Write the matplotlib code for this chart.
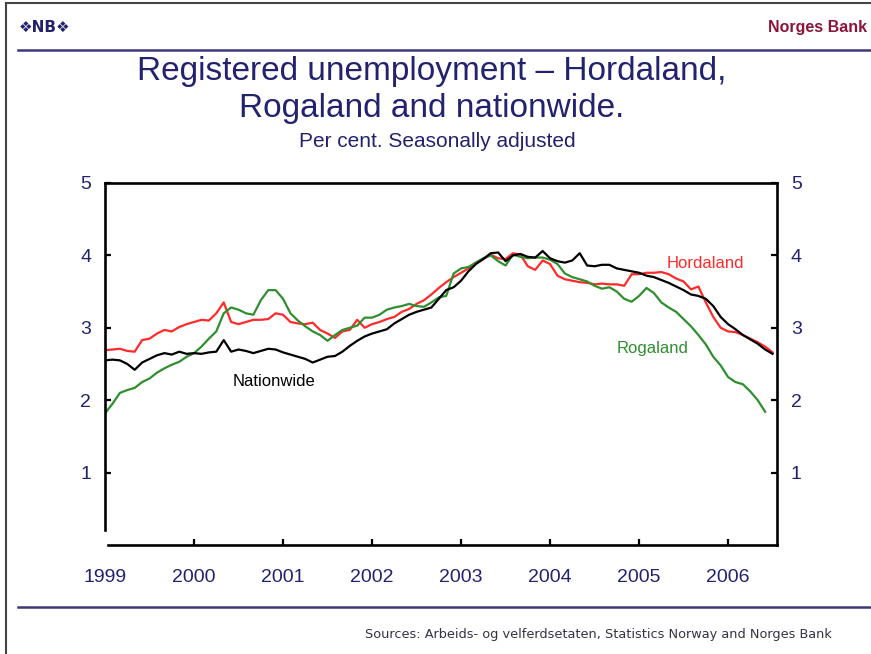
import numpy as np
import matplotlib
matplotlib.use("Agg")
from matplotlib import pyplot as plt
from matplotlib.lines import Line2D

plt.rcParams['font.family'] = ['Liberation Sans', 'DejaVu Sans']

# monthly data, Jan 1999 - Jul 2006
nationwide = [2.55, 2.56, 2.55, 2.50, 2.42, 2.52, 2.57, 2.62, 2.65, 2.63,
              2.67, 2.64, 2.65, 2.64, 2.66, 2.67, 2.83, 2.67, 2.70, 2.68,
              2.65, 2.68, 2.71, 2.70, 2.66, 2.63, 2.60, 2.57, 2.52, 2.56,
              2.60, 2.61, 2.67, 2.75, 2.82, 2.88, 2.92, 2.95, 2.98, 3.06,
              3.12, 3.18, 3.22, 3.25, 3.28, 3.40, 3.52, 3.56, 3.65, 3.78,
              3.88, 3.95, 4.03, 4.04, 3.92, 4.00, 4.02, 3.98, 3.97, 4.06,
              3.96, 3.92, 3.90, 3.93, 4.03, 3.86, 3.85, 3.87, 3.87, 3.82,
              3.80, 3.78, 3.76, 3.72, 3.70, 3.66, 3.62, 3.57, 3.52, 3.46,
              3.44, 3.40, 3.30, 3.15, 3.05, 2.98, 2.90, 2.84, 2.78, 2.70,
              2.64]
hordaland = [2.69, 2.70, 2.71, 2.68, 2.67, 2.83, 2.85, 2.92, 2.97, 2.95,
             3.01, 3.05, 3.08, 3.11, 3.10, 3.20, 3.35, 3.08, 3.05, 3.08,
             3.11, 3.11, 3.12, 3.20, 3.18, 3.08, 3.06, 3.05, 3.07, 2.97,
             2.92, 2.86, 2.95, 2.97, 3.11, 3.00, 3.05, 3.08, 3.12, 3.15,
             3.22, 3.26, 3.33, 3.38, 3.46, 3.55, 3.63, 3.70, 3.76, 3.82,
             3.90, 3.95, 4.01, 3.96, 3.95, 4.03, 4.01, 3.85, 3.80, 3.93,
             3.88, 3.72, 3.67, 3.65, 3.63, 3.62, 3.60, 3.61, 3.60, 3.60,
             3.58, 3.74, 3.74, 3.76, 3.76, 3.77, 3.74, 3.68, 3.64, 3.53,
             3.57, 3.35, 3.15, 3.00, 2.95, 2.94, 2.90, 2.85, 2.80, 2.74,
             2.66]
rogaland = [1.82, 1.95, 2.10, 2.14, 2.17, 2.25, 2.30, 2.38, 2.44, 2.49,
            2.53, 2.60, 2.65, 2.74, 2.85, 2.95, 3.20, 3.28, 3.25, 3.20,
            3.18, 3.38, 3.52, 3.52, 3.40, 3.20, 3.10, 3.02, 2.95, 2.90,
            2.82, 2.90, 2.97, 3.00, 3.03, 3.14, 3.14, 3.18, 3.25, 3.28,
            3.30, 3.33, 3.30, 3.29, 3.35, 3.42, 3.44, 3.75, 3.82, 3.84,
            3.90, 3.96, 4.00, 3.92, 3.86, 4.01, 3.98, 3.96, 3.97, 3.97,
            3.94, 3.88, 3.75, 3.70, 3.67, 3.64, 3.58, 3.54, 3.56, 3.50,
            3.40, 3.36, 3.44, 3.55, 3.48, 3.35, 3.28, 3.22, 3.12, 3.02,
            2.90, 2.77, 2.60, 2.48, 2.32, 2.25, 2.22, 2.12, 2.00, 1.84]

years = [1999, 2000, 2001, 2002, 2003, 2004, 2005, 2006]
yticks = [1, 2, 3, 4, 5]

navy = "#22226e"
red = "#ff2a2a"
green = "#2f8f2f"

t_nat = 1999 + np.arange(len(nationwide)) / 12
t_hor = 1999 + np.arange(len(hordaland)) / 12
t_rog = 1999 + np.arange(len(rogaland)) / 12

fig = plt.figure(figsize=(8.71, 6.54), dpi=100)

# frame and header/footer lines
fig.add_artist(Line2D([0.007, 0.007], [0, 0.996], color="#444444", lw=1.5))
fig.add_artist(Line2D([0.007, 1], [0.996, 0.996], color="#444444", lw=1.5))
fig.add_artist(Line2D([0.021, 1], [0.924, 0.924], color="#3a3a78", lw=1.8))
fig.add_artist(Line2D([0.021, 1], [0.072, 0.072], color="#3a3a78", lw=1.8))

fig.text(0.021, 0.958, "\u2756NB\u2756", color=navy, fontsize=11, fontweight="bold",
         family=["DejaVu Sans"], va="center", ha="left")
fig.text(0.995, 0.958, "Norges Bank", color="#8b1538", fontsize=11.5, fontweight="bold",
         va="center", ha="right")

fig.text(0.496, 0.891, "Registered unemployment \u2013 Hordaland,", color=navy,
         fontsize=24, ha="center", va="center")
fig.text(0.496, 0.834, "Rogaland and nationwide.", color=navy,
         fontsize=24, ha="center", va="center")
fig.text(0.502, 0.783, "Per cent. Seasonally adjusted", color=navy,
         fontsize=15, ha="center", va="center")

fig.text(0.955, 0.030, "Sources: Arbeids- og velferdsetaten, Statistics Norway and Norges Bank",
         color="#333344", fontsize=9.3, family=["DejaVu Sans"], ha="right", va="center")

ax = fig.add_axes([0.1206, 0.1667, 0.7715, 0.5535])
ax.plot(t_hor, hordaland, color=red, lw=1.6)
ax.plot(t_rog, rogaland, color=green, lw=1.6)
ax.plot(t_nat, nationwide, color="black", lw=1.6)

ax.set_xlim(1999, 2006.55)
ax.set_ylim(0, 5)
ax.set_xticks(years)
ax.set_xticklabels([str(y) for y in years])
ax.set_yticks(yticks)
ax.set_yticklabels([str(v) for v in yticks])

for s in ax.spines.values():
    s.set_linewidth(1.9)
ax.spines['left'].set_bounds(0.2, 5)
ax.spines['bottom'].set_bounds(1999.03, 2006.55)

ax.tick_params(axis="both", direction="in", length=4, width=1.6,
               colors="black", labelcolor=navy, labelsize=14)
ax.tick_params(axis="y", right=True, labelright=True, pad=10)
ax.tick_params(axis="x", pad=17.5)
ax.xaxis.get_major_ticks()[0].tick1line.set_visible(False)

ax.text(2005.75, 3.89, "Hordaland", color=red, fontsize=12, ha="center", va="center")
ax.text(2005.15, 2.72, "Rogaland", color=green, fontsize=12, ha="center", va="center")
ax.text(2000.9, 2.26, "Nationwide", color="black", fontsize=12, ha="center", va="center")

fig.savefig("out.png", dpi=100)
